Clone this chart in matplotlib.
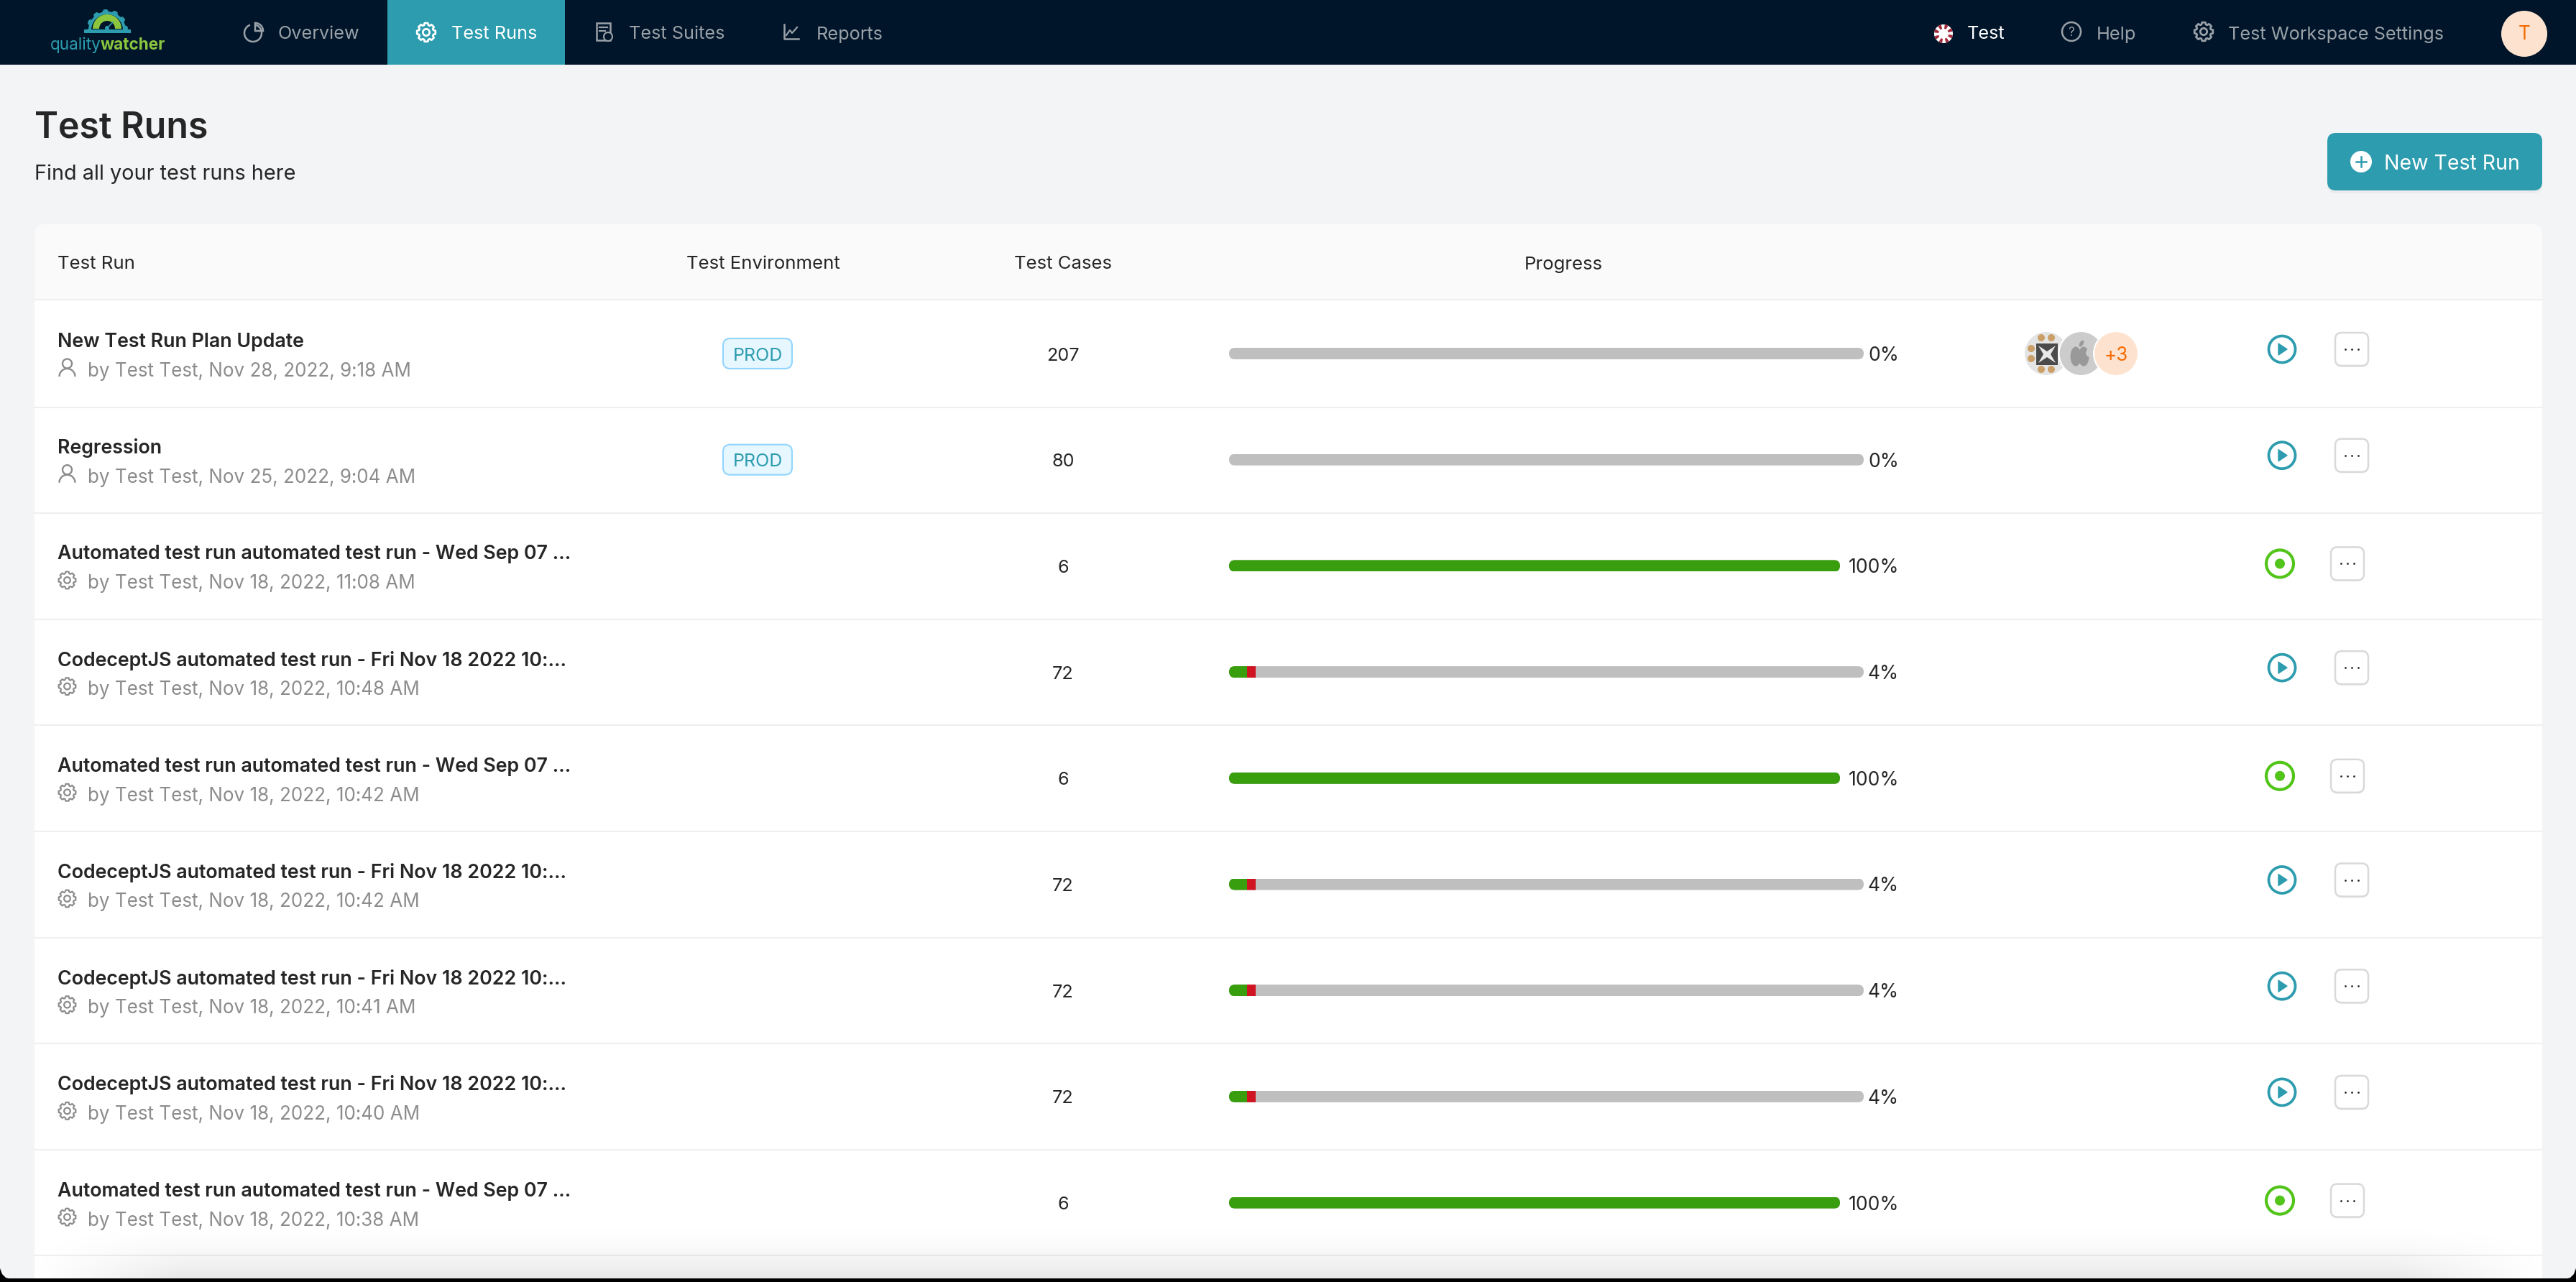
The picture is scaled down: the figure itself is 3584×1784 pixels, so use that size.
import numpy as np
import matplotlib
matplotlib.use("Agg")
import matplotlib.pyplot as plt
from matplotlib.patches import Circle, Ellipse, FancyBboxPatch, Polygon, Rectangle, Wedge, Arc

plt.rcParams["font.family"] = ["Inter", "Noto Sans", "DejaVu Sans"]

# table data
run_titles = [
    "New Test Run Plan Update",
    "Regression",
    "Automated test run automated test run - Wed Sep 07 ...",
    "CodeceptJS automated test run - Fri Nov 18 2022 10:...",
    "Automated test run automated test run - Wed Sep 07 ...",
    "CodeceptJS automated test run - Fri Nov 18 2022 10:...",
    "CodeceptJS automated test run - Fri Nov 18 2022 10:...",
    "CodeceptJS automated test run - Fri Nov 18 2022 10:...",
    "Automated test run automated test run - Wed Sep 07 ...",
]
run_dates = [
    "Nov 28, 2022, 9:18 AM", "Nov 25, 2022, 9:04 AM", "Nov 18, 2022, 11:08 AM",
    "Nov 18, 2022, 10:48 AM", "Nov 18, 2022, 10:42 AM", "Nov 18, 2022, 10:42 AM",
    "Nov 18, 2022, 10:41 AM", "Nov 18, 2022, 10:40 AM", "Nov 18, 2022, 10:38 AM",
]
environments = ["PROD", "PROD", "", "", "", "", "", "", ""]
test_cases = [207, 80, 6, 72, 6, 72, 72, 72, 6]
passed = [0, 0, 6, 2, 6, 2, 2, 2, 6]
failed = [0, 0, 0, 1, 0, 1, 1, 1, 0]
automated = [False, False, True, True, True, True, True, True, True]
column_names = ["Test Run", "Test Environment", "Test Cases", "Progress"]

NAVY = "#001529"
TEAL = "#2d9cae"
DARK = "#262626"
GREY = "#8c8c8c"
NAV_GREY = "#9aa1a8"
LOGO_GREEN = "#8cc63f"

W, H = 3584, 1784
fig = plt.figure(figsize=(W / 100, H / 100), dpi=100, facecolor="#f3f4f6")
ax = fig.add_axes([0, 0, 1, 1])
ax.set_xlim(0, W)
ax.set_ylim(H, 0)
ax.axis("off")


def label(x, y, s, size, color=DARK, ha="left", weight="normal", **kw):
    # size is in image pixels, +3 puts the glyphs where the browser had them
    return ax.text(x, y + 3, s, fontsize=size * 0.72, color=color, ha=ha, va="center",
                   fontweight=weight, zorder=6, **kw)


def box(x0, y0, x1, y1, r, fc, ec="none", lw=0, z=2):
    p = FancyBboxPatch((x0, y0), x1 - x0, y1 - y0, boxstyle=f"round,pad=0,rounding_size={r}",
                       fc=fc, ec=ec, lw=lw, zorder=z)
    ax.add_patch(p)
    return p


def gear(x, y, r, color, lw=2.0):
    n = 8
    pts = []
    for i in range(n):
        a = 2 * np.pi * i / n
        step = 2 * np.pi / n
        for da, rr in [(-0.30, 0.80), (-0.17, 1.0), (0.17, 1.0), (0.30, 0.80)]:
            pts.append((x + rr * r * np.cos(a + da * step * 1.3), y + rr * r * np.sin(a + da * step * 1.3)))
    ax.add_patch(Polygon(pts, closed=True, fc="none", ec=color, lw=lw, joinstyle="round", zorder=6))
    ax.add_patch(Circle((x, y), r * 0.36, fc="none", ec=color, lw=lw, zorder=6))


def person(x, y, color):
    ax.add_patch(Circle((x, y - 6), 6.5, fc="none", ec=color, lw=1.7, zorder=6))
    ax.add_patch(Arc((x, y + 12), 22, 22, theta1=180, theta2=360, ec=color, lw=1.7, zorder=6))


# nav bar
ax.add_patch(Rectangle((0, 0), W, 90, fc=NAVY, ec="none", zorder=1))
ax.add_patch(Rectangle((539, 0), 247, 90, fc=TEAL, ec="none", zorder=2))

# quality watcher logo
lx, ly = 149, 42
teeth = []
for i in range(37):
    a = np.pi * i / 36
    rr = 29 if (i // 3) % 2 == 0 else 26
    teeth.append((lx + rr * np.cos(a), ly - rr * np.sin(a)))
ax.add_patch(Polygon(teeth, closed=True, fc=TEAL, ec="none", zorder=3))
ax.add_patch(Wedge((lx, ly), 22, 180, 360, fc=NAVY, ec="none", zorder=3))
ax.add_patch(Rectangle((117, 41), 65, 5, fc=TEAL, ec="none", zorder=3))
ax.add_patch(Wedge((lx, ly - 2), 20, 180, 360, width=9, fc=LOGO_GREEN, ec="none", zorder=4))
ax.add_patch(Circle((lx, ly - 3), 3, fc=TEAL, ec="none", zorder=5))
ax.plot([lx, lx + 8], [ly - 3, ly - 11], color=TEAL, lw=1.2, zorder=5)
label(70, 60, "quality", 22.5, color=TEAL)
label(140, 60, "watcher", 22.5, color=LOGO_GREEN, weight="bold")

# left nav items
label(387, 45, "Overview", 25.3, color=NAV_GREY)
label(628, 45, "Test Runs", 25.3, color="white")
label(875, 45, "Test Suites", 25.3, color=NAV_GREY)
label(1136, 45, "Reports", 25.3, color=NAV_GREY)

ax.add_patch(Arc((352, 46), 24, 24, theta1=-70, theta2=250, ec=NAV_GREY, lw=1.8, zorder=6))
ax.add_patch(Wedge((355, 43), 11, 270, 360, fc="none", ec=NAV_GREY, lw=1.8, zorder=6))
gear(593, 45, 13, "white")
ax.add_patch(Rectangle((830, 32), 19, 24, fc="none", ec=NAV_GREY, lw=1.8, zorder=6))
ax.plot([834, 845], [38, 38], color=NAV_GREY, lw=1.6, zorder=6)
ax.plot([834, 842], [43, 43], color=NAV_GREY, lw=1.6, zorder=6)
ax.add_patch(Circle((846, 51), 6, fc=NAVY, ec=NAV_GREY, lw=1.5, zorder=7))
ax.plot([1091, 1091, 1111], [34, 54, 54], color=NAV_GREY, lw=1.8, zorder=6)
ax.plot([1094, 1099, 1102, 1109], [49, 42, 46, 38], color=NAV_GREY, lw=1.6, zorder=6)

# right nav items
ax.add_patch(Circle((2704, 47), 13, fc="white", ec="none", zorder=5))
for a in range(0, 360, 45):
    ax.add_patch(Wedge((2704, 47), 13, a + 8, a + 30, width=6, fc="#a32a3c", ec="none", zorder=6))
label(2737, 45, "Test", 25.3, color="white")
ax.add_patch(Circle((2882, 44), 13, fc="none", ec=NAV_GREY, lw=1.8, zorder=6))
label(2882, 42, "?", 17, color=NAV_GREY, ha="center")
label(2917, 45, "Help", 25.3, color=NAV_GREY)
gear(3066, 44, 13, NAV_GREY)
label(3100, 45, "Test Workspace Settings", 25.3, color=NAV_GREY)
ax.add_patch(Circle((3512, 47), 32, fc="#fde3cf", ec="none", zorder=5))
label(3512, 45, "T", 26, color="#f56a00", ha="center")

# page heading
label(48, 175, "Test Runs", 50, weight="semibold")
label(48, 239, "Find all your test runs here", 28.8)

# new test run button
box(3238, 189, 3537, 269, 12, "#e9ebec", z=2)
box(3238, 185, 3537, 265, 12, TEAL, z=3)
ax.add_patch(Circle((3285, 225), 15, fc="white", ec="none", zorder=5))
ax.plot([3278, 3292], [225, 225], color=TEAL, lw=1.8, zorder=6)
ax.plot([3285, 3285], [218, 232], color=TEAL, lw=1.8, zorder=6)
label(3317, 225, "New Test Run", 28.5, color="white")

# table card
card_top, head_bottom, card_bottom = 312, 417, 1784
box(48, card_top, 3537, card_bottom + 40, 14, "#fafafa", z=2)
ax.add_patch(Rectangle((48, head_bottom), 3489, card_bottom - head_bottom, fc="white", ec="none", zorder=3))
label(80, 365, column_names[0], 25.8)
label(1062, 365, column_names[1], 25.8, ha="center")
label(1479, 365, column_names[2], 25.8, ha="center")
label(2175, 365, column_names[3], 25.8, ha="center")

row_y0, row_pitch = 492, 147.7
line_y0, line_pitch = 566.5, 147.6
track_x0, track_x1 = 1710, 2593
track_x1_done = 2560

ax.plot([48, 3537], [417, 417], color="#f0f0f0", lw=1.5, zorder=4)
for i in range(len(run_titles)):
    ly_ = line_y0 + i * line_pitch
    ax.plot([48, 3537], [ly_, ly_], color="#f0f0f0", lw=1.5, zorder=4)

for i, title in enumerate(run_titles):
    y = row_y0 + i * row_pitch
    label(80, y - 19, title, 26.8, weight="semibold")
    if automated[i]:
        gear(93.5, y + 20, 12, GREY, lw=1.6)
    else:
        person(93.5, y + 20, GREY)
    label(122, y + 22, "by Test Test, " + run_dates[i], 26, color=GREY)

    if environments[i]:
        box(1006, y - 21, 1102, y + 21, 10, "#e6f7ff", ec="#91d5ff", lw=1.5, z=4)
        label(1054, y, environments[i], 25, color=TEAL, ha="center")

    label(1479, y, str(test_cases[i]), 25.3, ha="center")

    # progress track, segments share a rounded clip
    share_p = passed[i] / test_cases[i]
    share_f = failed[i] / test_cases[i]
    done = round((passed[i] + failed[i]) / test_cases[i] * 100)
    x1 = track_x1_done if done == 100 else track_x1
    tw = x1 - track_x0
    clip = box(track_x0, y - 8, x1, y + 8, 8, "none", z=4)
    bars = [
        ax.barh(y, tw, left=track_x0, height=16, color="#bfbfbf", zorder=4),
        ax.barh(y, tw * share_p, left=track_x0, height=16, color="#389e0d", zorder=5),
        ax.barh(y, tw * share_f, left=track_x0 + tw * share_p, height=16, color="#cf1322", zorder=5),
    ]
    for b in bars:
        for r in b:
            r.set_clip_path(clip)
    label(2642, y, f"{done}%", 26.5, ha="right")

    # action icons
    if done == 100:
        ix, iy = 3172, y - 3
        ax.add_patch(Circle((ix, iy), 19, fc="none", ec="#52c41a", lw=3, zorder=5))
        ax.add_patch(Circle((ix, iy), 7, fc="#52c41a", ec="none", zorder=5))
        mx = 3266
    else:
        ix, iy = 3175, y - 6
        ax.add_patch(Circle((ix, iy), 18.5, fc="none", ec=TEAL, lw=2.7, zorder=5))
        ax.add_patch(Polygon([(ix - 5, iy - 8), (ix + 7, iy), (ix - 5, iy + 8)], closed=True,
                             fc=TEAL, ec=TEAL, lw=1, joinstyle="round", zorder=5))
        mx = 3272
    box(mx - 23, iy - 21, mx + 23, iy + 25, 9, "#f4f4f4", z=4)
    box(mx - 23, iy - 23, mx + 23, iy + 23, 9, "white", ec="#d9d9d9", lw=1.8, z=5)
    ax.scatter([mx - 9, mx, mx + 9], [iy, iy, iy], s=4, color=DARK, zorder=6, linewidths=0)

# avatars on first row
y = row_y0
ax.add_patch(Circle((2847, y), 30, fc="#e4e4e4", ec="none", zorder=5))
for dx, dy in [(-7, -22), (7, -22), (-7, 22), (7, 22), (-21, -7), (-21, 7)]:
    ax.add_patch(Circle((2847 + dx, y + dy), 5, fc="#cb9f68", ec="none", zorder=5))
ax.add_patch(Rectangle((2833, y - 14), 30, 30, fc="#4a4a4a", ec="none", zorder=5))
ax.add_patch(Polygon([(2836, y - 11), (2848, y - 3), (2860, y - 11), (2853, y + 1), (2860, y + 13),
                      (2848, y + 5), (2836, y + 13), (2843, y + 1)], closed=True, fc="#e8e8e8", ec="none", zorder=5))
ax.add_patch(Circle((2895.5, y), 31, fc="#cccccc", ec="white", lw=1.5, zorder=5.1))
ax.add_patch(Ellipse((2888, y + 4), 15, 27, fc="#999999", ec="none", zorder=5.2))
ax.add_patch(Ellipse((2899, y + 4), 15, 27, fc="#999999", ec="none", zorder=5.2))
ax.add_patch(Circle((2908, y - 1), 6, fc="#cccccc", ec="none", zorder=5.3))
ax.add_patch(Ellipse((2896, y - 14), 5, 10, angle=30, fc="#999999", ec="none", zorder=5.2))
ax.add_patch(Circle((2944, y), 31, fc="#fde3cf", ec="white", lw=1.5, zorder=5.4))
t = label(2944, y, "+3", 26, color="#f56a00", ha="center")
t.set_zorder(5.5)

# soft fade at the bottom of the window
yy, xx = np.mgrid[0:1:80j, 0:1:400j]
alpha = (yy ** 1.6) * np.clip(np.minimum(xx / 0.06, (1 - xx) / 0.06), 0, 1) * 0.09
rgba = np.zeros(alpha.shape + (4,))
rgba[..., 3] = alpha
ax.imshow(rgba, extent=(40, 3544, 1779, 1699), aspect="auto", zorder=7, interpolation="bilinear")
ax.set_xlim(0, W)
ax.set_ylim(H, 0)

# window edge
ax.add_patch(Rectangle((0, 1779), W, 5, fc="black", ec="none", zorder=8))
ax.add_patch(Polygon([(0, 1765), (3, 1773), (8, 1778), (16, 1780), (0, 1784)], closed=True, fc="black", ec="none", zorder=8))
ax.add_patch(Polygon([(W, 1765), (W - 3, 1773), (W - 8, 1778), (W - 16, 1780), (W, 1784)], closed=True, fc="black", ec="none", zorder=8))

fig.savefig("out.png", dpi=100, facecolor=fig.get_facecolor())
